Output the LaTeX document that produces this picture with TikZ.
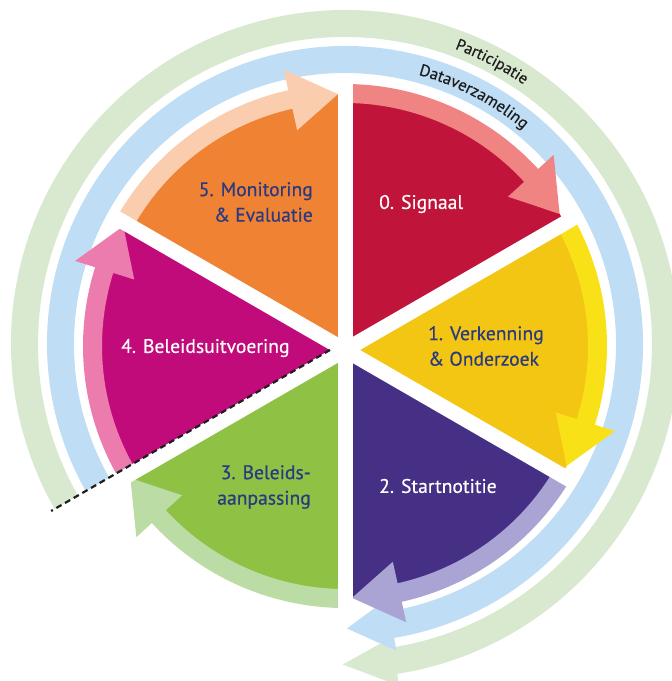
\documentclass[tikz,border=0pt]{standalone}
\usepackage{fontspec}
\setmainfont{PT Sans}
\newfontfamily\lblfont[FakeBold=0.5]{PT Sans}
\usetikzlibrary{calc,decorations.text}
\definecolor{redS}{HTML}{C1143B}
\definecolor{redL}{HTML}{F08482}
\definecolor{yelS}{HTML}{F3C614}
\definecolor{yelL}{HTML}{F8E117}
\definecolor{purS}{HTML}{463086}
\definecolor{purL}{HTML}{A9A4D3}
\definecolor{grnS}{HTML}{8FC145}
\definecolor{grnL}{HTML}{BCDCA5}
\definecolor{magS}{HTML}{C20B7A}
\definecolor{magL}{HTML}{EC7BAE}
\definecolor{oraS}{HTML}{F08234}
\definecolor{oraL}{HTML}{F9CDAE}
\definecolor{ringB}{HTML}{BFDDF4}
\definecolor{ringG}{HTML}{D8E9CF}
\definecolor{navy}{HTML}{2B3A80}
\definecolor{ink}{HTML}{1E1E1E}
\tikzset{
  lbl/.style={inner sep=0pt, font=\lblfont\fontsize{19.6}{25.5}\selectfont},
  gapline/.style={white, line width=15pt},
  cutline/.style={ink, line width=2.2pt, dash pattern=on 6pt off 4pt},
}
\begin{document}
\begin{tikzpicture}[x=1pt,y=1pt]
\useasboundingbox (0,0) rectangle (672,-681);
\coordinate (G) at (345,-350);
\coordinate (A) at (345,-346);
\coordinate (R) at (345,-344);
\coordinate (MA) at (330,-350);
\coordinate (ME) at ($(MA)+(210:322)$);

% outer rings
\begin{scope}
\clip (MA) -- ($(MA)+(210:420)$) -- (-40,40) -- (720,40) -- (720,-720) -- (300,-720) -- cycle;
\fill[ringG] ($(R)+(215:307)$) arc[start angle=215, end angle=-81, radius=307]
  -- ($(R)+(-81:297)$) -- ($(R)+(-90.4:320.5)$) -- ($(R)+(-81:346)$)
  -- ($(R)+(-81:334)$) arc[start angle=-81, end angle=215, radius=334] -- cycle;
\fill[ringB] ($(R)+(215:271)$) arc[start angle=215, end angle=-80.5, radius=271]
  -- ($(R)+(-80.5:258)$) -- ($(R)+(-89.6:284.5)$) -- ($(R)+(-80.5:311)$)
  -- ($(R)+(-80.5:298)$) arc[start angle=-80.5, end angle=215, radius=298] -- cycle;
\end{scope}

% sectors
\foreach \s/\c in {90/redS, 30/yelS, -30/purS, -90/grnS, -150/magS, 150/oraS}
  \fill[\c] (G) -- ($(A)+(\s:252)$) arc[start angle=\s, end angle=\s-60, radius=252] -- cycle;

% arrow bands
\foreach \s/\c in {90/redL, 30/yelL, -30/purL, -90/grnL, 210/magL, 150/oraL}
  \fill[\c] ($(A)+(\s:243)$) arc[start angle=\s, end angle=\s-47.5, radius=243]
    -- ($(A)+({\s-47.5}:221)$) -- ($(A)+({\s-58.4}:252)$) -- ($(A)+({\s-47.5}:283)$)
    -- ($(A)+({\s-47.5}:262)$) arc[start angle=\s-47.5, end angle=\s, radius=262] -- cycle;

% white gaps
\foreach \a in {90,30,-30,-90,-150,150}
  \draw[gapline] (G) -- ($(G)+(\a:266)$);

% dashed line
\draw[cutline] (MA) -- (ME);

% labels
\node[lbl, text=white, anchor=west] (t0) at (379,-204) {0. Signaal};
\node[lbl, text=navy, align=left, anchor=west] (t1) at (428,-346) {1. Verkenning\\\& Onderzoek};
\node[lbl, text=white, anchor=west] (t2) at (379,-486) {2. Startnotitie};
\node[lbl, text=navy, align=right, anchor=east] (t3) at (311,-487) {3. Beleids-\\aanpassing};
\node[lbl, text=white, anchor=west] (t4) at (121,-348) {4. Beleidsuitvoering};
\node[lbl, text=navy, align=right, anchor=east] (t5) at (313,-202) {5. Monitoring\\\& Evaluatie};

% ring texts
\path[decorate, decoration={text along path, text align=center,
  text={|\lblfont\fontsize{16.5}{16.5}\selectfont\color{ink}|Dataverzameling}}]
  ($(R)+(82:279)$) arc[start angle=82, end angle=43, radius=279];
\path[decorate, decoration={text along path, text align=center,
  text={|\lblfont\fontsize{16}{16}\selectfont\color{ink}|Participatie}}]
  ($(R)+(80:315)$) arc[start angle=80, end angle=45, radius=315];
\end{tikzpicture}
\end{document}
